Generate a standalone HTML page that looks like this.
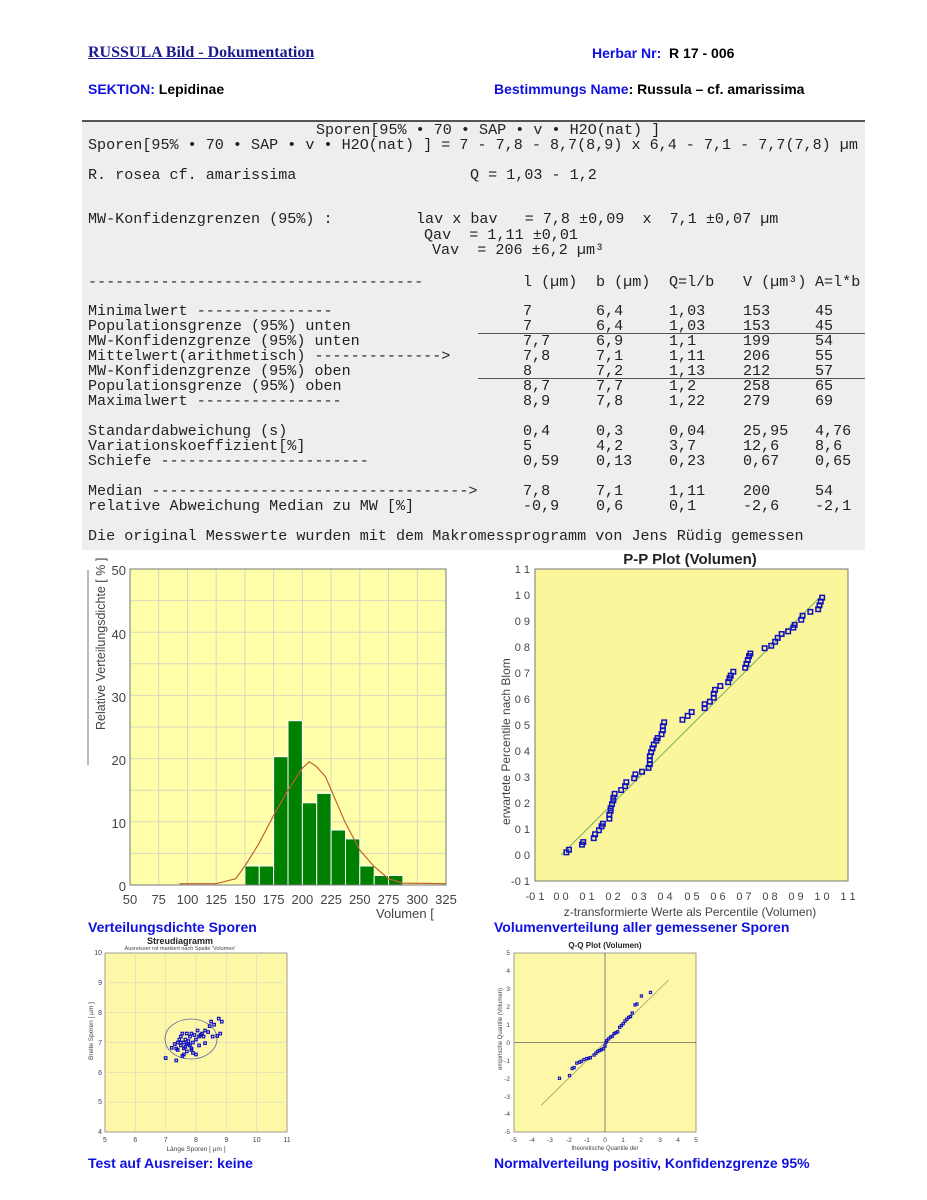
<!DOCTYPE html>
<html><head><meta charset="utf-8"><style>
body{margin:0;background:#fff;}
#p{position:relative;width:927px;height:1200px;overflow:hidden;font-family:"Liberation Sans",sans-serif;}
.a{position:absolute;white-space:pre;}
.m{font-family:"Liberation Mono",monospace;font-size:15.1px;color:#222;line-height:15px;}
.h{font-weight:bold;font-size:14px;}
.b{color:#1010e0;}
.cap{font-weight:bold;font-size:14px;color:#1010e0;}
</style></head><body><div id="p">
<div class="a" style="left:88px;top:44px;font-family:'Liberation Serif',serif;font-weight:bold;font-size:16px;color:#1a1a8c;text-decoration:underline;">RUSSULA Bild - Dokumentation</div>
<div class="a h" style="left:592px;top:45px;"><span class="b">Herbar Nr:</span>  R 17 - 006</div>
<div class="a h" style="left:88px;top:81px;"><span class="b">SEKTION:</span> Lepidinae</div>
<div class="a h" style="left:494px;top:81px;"><span class="b">Bestimmungs Name</span>: Russula – cf. amarissima</div>
<div class="a" style="left:82px;top:120px;width:783px;height:428px;background:#eeeeee;border-top:2px solid #555;"></div>
<div class="a m" style="left:316px;top:123px;">Sporen[95% • 70 • SAP • v • H2O(nat) ]</div>
<div class="a m" style="left:88px;top:138px;">Sporen[95% • 70 • SAP • v • H2O(nat) ] = 7 - 7,8 - 8,7(8,9) x 6,4 - 7,1 - 7,7(7,8) µm</div>
<div class="a m" style="left:88px;top:168px;">R. rosea cf. amarissima</div>
<div class="a m" style="left:470px;top:168px;">Q = 1,03 - 1,2</div>
<div class="a m" style="left:88px;top:212px;">MW-Konfidenzgrenzen (95%) :</div>
<div class="a m" style="left:416px;top:212px;">lav x bav   = 7,8 ±0,09  x  7,1 ±0,07 µm</div>
<div class="a m" style="left:424px;top:228px;">Qav  = 1,11 ±0,01</div>
<div class="a m" style="left:432px;top:243px;">Vav  = 206 ±6,2 µm³</div>
<div class="a m" style="left:88px;top:275px;">-------------------------------------</div>
<div class="a m" style="left:523px;top:275px;">l (µm)</div><div class="a m" style="left:596px;top:275px;">b (µm)</div><div class="a m" style="left:669px;top:275px;">Q=l/b</div><div class="a m" style="left:743px;top:275px;">V (µm³)</div><div class="a m" style="left:815px;top:275px;">A=l*b</div>
<div class="a m" style="left:88px;top:304px;">Minimalwert ---------------
Populationsgrenze (95%) unten
MW-Konfidenzgrenze (95%) unten
Mittelwert(arithmetisch) -------------->
MW-Konfidenzgrenze (95%) oben
Populationsgrenze (95%) oben
Maximalwert ----------------</div>
<div class="a m" style="left:523px;top:304px;">7
7
7,7
7,8
8
8,7
8,9</div>
<div class="a m" style="left:596px;top:304px;">6,4
6,4
6,9
7,1
7,2
7,7
7,8</div>
<div class="a m" style="left:669px;top:304px;">1,03
1,03
1,1
1,11
1,13
1,2
1,22</div>
<div class="a m" style="left:743px;top:304px;">153
153
199
206
212
258
279</div>
<div class="a m" style="left:815px;top:304px;">45
45
54
55
57
65
69</div>
<div class="a" style="left:478px;top:333px;width:387px;height:1px;background:#555;"></div>
<div class="a" style="left:478px;top:378px;width:387px;height:1px;background:#555;"></div>
<div class="a m" style="left:88px;top:424px;">Standardabweichung (s)
Variationskoeffizient[%]
Schiefe -----------------------</div>
<div class="a m" style="left:523px;top:424px;">0,4
5
0,59</div>
<div class="a m" style="left:596px;top:424px;">0,3
4,2
0,13</div>
<div class="a m" style="left:669px;top:424px;">0,04
3,7
0,23</div>
<div class="a m" style="left:743px;top:424px;">25,95
12,6
0,67</div>
<div class="a m" style="left:815px;top:424px;">4,76
8,6
0,65</div>
<div class="a m" style="left:88px;top:484px;">Median ----------------------------------->
relative Abweichung Median zu MW [%]</div>
<div class="a m" style="left:523px;top:484px;">7,8
-0,9</div>
<div class="a m" style="left:596px;top:484px;">7,1
0,6</div>
<div class="a m" style="left:669px;top:484px;">1,11
0,1</div>
<div class="a m" style="left:743px;top:484px;">200
-2,6</div>
<div class="a m" style="left:815px;top:484px;">54
-2,1</div>
<div class="a m" style="left:88px;top:529px;">Die original Messwerte wurden mit dem Makromessprogramm von Jens Rüdig gemessen</div>

<svg class="a" style="left:0;top:0" width="927" height="1200" font-family="Liberation Sans, sans-serif">
<rect x="87" y="570" width="2" height="195" fill="#bbb"/>
<rect x="130" y="569" width="316" height="316" fill="#ffffaa" stroke="#777"/>
<g stroke="#d8d8c0" stroke-width="1">
<line x1="158.7" y1="569" x2="158.7" y2="885"/><line x1="187.5" y1="569" x2="187.5" y2="885"/><line x1="216.2" y1="569" x2="216.2" y2="885"/><line x1="244.9" y1="569" x2="244.9" y2="885"/><line x1="273.6" y1="569" x2="273.6" y2="885"/><line x1="302.4" y1="569" x2="302.4" y2="885"/><line x1="331.1" y1="569" x2="331.1" y2="885"/><line x1="359.8" y1="569" x2="359.8" y2="885"/><line x1="388.5" y1="569" x2="388.5" y2="885"/><line x1="417.3" y1="569" x2="417.3" y2="885"/>
<line x1="130" y1="600.6" x2="446" y2="600.6"/><line x1="130" y1="632.2" x2="446" y2="632.2"/><line x1="130" y1="663.8" x2="446" y2="663.8"/><line x1="130" y1="695.4" x2="446" y2="695.4"/><line x1="130" y1="727" x2="446" y2="727"/><line x1="130" y1="758.6" x2="446" y2="758.6"/><line x1="130" y1="790.2" x2="446" y2="790.2"/><line x1="130" y1="821.8" x2="446" y2="821.8"/><line x1="130" y1="853.4" x2="446" y2="853.4"/>
</g>
<g fill="#008000" stroke="#fff" stroke-width="1">
<rect x="244.9" y="866" width="14.4" height="19"/><rect x="259.3" y="866" width="14.3" height="19"/><rect x="273.6" y="756.7" width="14.4" height="128.3"/><rect x="288" y="720.7" width="14.4" height="164.3"/><rect x="302.4" y="802.8" width="14.3" height="82.2"/><rect x="316.7" y="793.4" width="14.4" height="91.6"/><rect x="331.1" y="830" width="14.4" height="55"/><rect x="345.5" y="838.9" width="14.3" height="46.1"/><rect x="359.8" y="866" width="14.4" height="19"/><rect x="374.2" y="875.5" width="14.3" height="9.5"/><rect x="388.5" y="875.5" width="14.4" height="9.5"/>
</g>
<polyline fill="none" stroke="#c0603a" stroke-width="1.2" points="179.4,883.7 216.2,883.7 235.7,878.7 244.9,866 258.7,843.9 273.6,815.5 288,790.2 302.4,768.1 309.2,761.8 316.1,766.2 325.3,776.3 344.9,821.8 359.8,850.2 373.6,866 388.5,878.7 402.3,883.1 446,883.7"/>
<rect x="130" y="569" width="316" height="316" fill="none" stroke="#777"/>
<g font-size="13" fill="#444" text-anchor="end">
<text x="126" y="575">50</text><text x="126" y="639">40</text><text x="126" y="702">30</text><text x="126" y="765">20</text><text x="126" y="828">10</text><text x="126" y="891">0</text></g>
<g font-size="13" fill="#444" text-anchor="middle">
<text x="130" y="904">50</text><text x="158.7" y="904">75</text><text x="187.5" y="904">100</text><text x="216.2" y="904">125</text><text x="244.9" y="904">150</text><text x="273.6" y="904">175</text><text x="302.4" y="904">200</text><text x="331.1" y="904">225</text><text x="359.8" y="904">250</text><text x="388.5" y="904">275</text><text x="417.3" y="904">300</text><text x="446" y="904">325</text></g>
<text x="376" y="918" font-size="13" fill="#444">Volumen [</text>
<text transform="translate(105,730) rotate(-90)" font-size="12.5" fill="#444">Relative Verteilungsdichte [ % ]</text>

<text x="690" y="564" text-anchor="middle" font-size="15" font-weight="bold" fill="#222">P-P Plot (Volumen)</text>
<rect x="535" y="569" width="313" height="312" fill="#fbf59c" stroke="#777"/>
<line x1="561.1" y1="855" x2="822.1" y2="595" stroke="#7cb060" stroke-width="1"/>
<g id="pp" fill="none" stroke="#1010c0" stroke-width="1.5"></g>
<g font-size="11" fill="#444" text-anchor="end">
<text x="530" y="573">1 1</text><text x="530" y="599">1 0</text><text x="530" y="625">0 9</text><text x="530" y="651">0 8</text><text x="530" y="677">0 7</text><text x="530" y="703">0 6</text><text x="530" y="729">0 5</text><text x="530" y="755">0 4</text><text x="530" y="781">0 3</text><text x="530" y="807">0 2</text><text x="530" y="833">0 1</text><text x="530" y="859">0 0</text><text x="530" y="885">-0 1</text></g>
<g font-size="11" fill="#444" text-anchor="middle">
<text x="535" y="900">-0 1</text><text x="561" y="900">0 0</text><text x="587" y="900">0 1</text><text x="613" y="900">0 2</text><text x="639" y="900">0 3</text><text x="665" y="900">0 4</text><text x="692" y="900">0 5</text><text x="718" y="900">0 6</text><text x="744" y="900">0 7</text><text x="770" y="900">0 8</text><text x="796" y="900">0 9</text><text x="822" y="900">1 0</text><text x="848" y="900">1 1</text></g>
<text x="690" y="916" text-anchor="middle" font-size="12" fill="#444">z-transformierte Werte als Percentile (Volumen)</text>
<text transform="translate(510,825) rotate(-90)" font-size="12" fill="#444">erwartete Percentile nach Blom</text>

<text x="180" y="944" text-anchor="middle" font-size="9" font-weight="bold" fill="#222">Streudiagramm</text>
<text x="180" y="950" text-anchor="middle" font-size="5.5" fill="#444">Ausreisser rot markiert nach Spalte 'Volumen'</text>
<rect x="105" y="953" width="182" height="179" fill="#fdf8a8" stroke="#777" stroke-width="0.7"/>
<g stroke="#d8d8c0" stroke-width="0.7">
<line x1="135.3" y1="953" x2="135.3" y2="1132"/><line x1="165.7" y1="953" x2="165.7" y2="1132"/><line x1="196" y1="953" x2="196" y2="1132"/><line x1="226.3" y1="953" x2="226.3" y2="1132"/><line x1="256.7" y1="953" x2="256.7" y2="1132"/>
<line x1="105" y1="982.8" x2="287" y2="982.8"/><line x1="105" y1="1012.7" x2="287" y2="1012.7"/><line x1="105" y1="1042.5" x2="287" y2="1042.5"/><line x1="105" y1="1072.3" x2="287" y2="1072.3"/><line x1="105" y1="1102.2" x2="287" y2="1102.2"/>
</g>
<ellipse cx="191" cy="1039" rx="26" ry="20" fill="none" stroke="#6060a0" stroke-width="0.8"/>
<g id="sc" fill="none" stroke="#1010c0" stroke-width="1.2"></g>
<g font-size="7" fill="#444" text-anchor="end">
<text x="102" y="955">10</text><text x="102" y="985">9</text><text x="102" y="1015">8</text><text x="102" y="1045">7</text><text x="102" y="1075">6</text><text x="102" y="1104">5</text><text x="102" y="1134">4</text></g>
<g font-size="7" fill="#444" text-anchor="middle">
<text x="105" y="1142">5</text><text x="135.3" y="1142">6</text><text x="165.7" y="1142">7</text><text x="196" y="1142">8</text><text x="226.3" y="1142">9</text><text x="256.7" y="1142">10</text><text x="287" y="1142">11</text></g>
<text x="196" y="1151" text-anchor="middle" font-size="6.5" fill="#444">Länge Sporen [ µm ]</text>
<text transform="translate(93,1060) rotate(-90)" font-size="6.5" fill="#444">Breite Sporen [ µm ]</text>

<text x="605" y="948" text-anchor="middle" font-size="8" font-weight="bold" fill="#222">Q-Q Plot (Volumen)</text>
<rect x="514" y="953" width="182" height="179" fill="#fdf8a8" stroke="#777" stroke-width="0.7"/>
<line x1="605" y1="953" x2="605" y2="1132" stroke="#666" stroke-width="0.8"/>
<line x1="514" y1="1042.5" x2="696" y2="1042.5" stroke="#666" stroke-width="0.8"/>
<line x1="541.3" y1="1105.2" x2="668.7" y2="979.9" stroke="#9aa070" stroke-width="0.8"/>
<g id="qq" fill="none" stroke="#1010c0" stroke-width="1.1"></g>
<g font-size="6.5" fill="#444" text-anchor="end">
<text x="510" y="955">5</text><text x="510" y="973">4</text><text x="510" y="991">3</text><text x="510" y="1009">2</text><text x="510" y="1027">1</text><text x="510" y="1045">0</text><text x="510" y="1063">-1</text><text x="510" y="1081">-2</text><text x="510" y="1099">-3</text><text x="510" y="1116">-4</text><text x="510" y="1134">-5</text></g>
<g font-size="6.5" fill="#444" text-anchor="middle">
<text x="514" y="1142">-5</text><text x="532" y="1142">-4</text><text x="550" y="1142">-3</text><text x="569" y="1142">-2</text><text x="587" y="1142">-1</text><text x="605" y="1142">0</text><text x="623" y="1142">1</text><text x="641" y="1142">2</text><text x="660" y="1142">3</text><text x="678" y="1142">4</text><text x="696" y="1142">5</text></g>
<text x="605" y="1150" text-anchor="middle" font-size="6" fill="#444">theoretische Quantile der</text>
<text transform="translate(502,1070) rotate(-90)" font-size="6" fill="#444">empirische Quantile (Volumen)</text>
</svg>
<div class="a cap" style="left:88px;top:919px;">Verteilungsdichte Sporen</div>
<div class="a cap" style="left:494px;top:919px;">Volumenverteilung aller gemessener Sporen</div>
<div class="a cap" style="left:88px;top:1155px;">Test auf Ausreiser: keine</div>
<div class="a cap" style="left:494px;top:1155px;">Normalverteilung positiv, Konfidenzgrenze 95%</div>
</div>
<script>
var NS="http://www.w3.org/2000/svg";
function pts(id,arr,fx,fy,s){var g=document.getElementById(id);arr.forEach(function(p){var r=document.createElementNS(NS,"rect");r.setAttribute("x",(fx(p[0])-s/2).toFixed(1));r.setAttribute("y",(fy(p[1])-s/2).toFixed(1));r.setAttribute("width",s);r.setAttribute("height",s);g.appendChild(r);});}
var pp=[[0.02,0.01],[0.03,0.02],[0.08,0.04],[0.085,0.05],[0.125,0.065],[0.13,0.08],[0.145,0.095],[0.155,0.11],[0.16,0.12],[0.185,0.14],[0.185,0.155],[0.19,0.17],[0.19,0.18],[0.195,0.195],[0.2,0.21],[0.2,0.22],[0.205,0.235],[0.23,0.25],[0.245,0.265],[0.25,0.28],[0.28,0.295],[0.285,0.31],[0.31,0.32],[0.335,0.335],[0.34,0.35],[0.34,0.365],[0.34,0.38],[0.345,0.395],[0.35,0.41],[0.355,0.425],[0.365,0.44],[0.37,0.45],[0.385,0.465],[0.39,0.48],[0.39,0.495],[0.395,0.51],[0.465,0.52],[0.485,0.535],[0.5,0.55],[0.55,0.565],[0.55,0.58],[0.57,0.59],[0.585,0.605],[0.585,0.62],[0.59,0.635],[0.61,0.65],[0.64,0.665],[0.645,0.68],[0.65,0.69],[0.66,0.705],[0.705,0.72],[0.71,0.735],[0.715,0.75],[0.72,0.765],[0.725,0.775],[0.78,0.795],[0.805,0.805],[0.82,0.82],[0.83,0.835],[0.845,0.85],[0.87,0.86],[0.89,0.875],[0.895,0.885],[0.92,0.905],[0.925,0.92],[0.955,0.935],[0.985,0.945],[0.99,0.96],[0.995,0.975],[1.0,0.99]];
pts("pp",pp,function(v){return 561.1+v*261},function(v){return 855-v*260},4.5);
var sc=[[7.0,6.48],[7.35,6.4],[7.2,6.82],[7.3,6.95],[7.35,6.8],[7.4,6.75],[7.4,7.0],[7.45,7.1],[7.5,6.9],[7.5,7.2],[7.55,7.3],[7.55,6.55],[7.6,6.6],[7.6,7.0],[7.6,6.8],[7.65,7.1],[7.65,6.85],[7.7,7.3],[7.7,6.7],[7.75,6.95],[7.75,7.05],[7.8,7.2],[7.8,6.9],[7.85,7.3],[7.85,6.8],[7.9,7.0],[7.9,6.65],[7.95,7.25],[8.0,6.6],[8.0,7.1],[8.05,7.4],[8.1,6.9],[8.1,7.2],[8.15,7.25],[8.2,7.3],[8.25,7.2],[8.3,6.98],[8.3,7.4],[8.4,7.35],[8.45,7.55],[8.5,7.7],[8.55,7.2],[8.6,7.6],[8.7,7.22],[8.75,7.8],[8.85,7.7],[8.8,7.3],[7.85,6.75],[7.7,6.95],[7.5,7.0]];
pts("sc",sc,function(v){return 105+(v-5)*30.33},function(v){return 1132-(v-4)*29.83},2.5);
var qq=[[-2.5,-2.0],[-1.95,-1.85],[-1.8,-1.45],[-1.7,-1.4],[-1.55,-1.15],[-1.4,-1.1],[-1.3,-1.05],[-1.15,-0.95],[-1.0,-0.9],[-0.9,-0.88],[-0.8,-0.85],[-0.6,-0.7],[-0.5,-0.6],[-0.4,-0.5],[-0.3,-0.45],[-0.2,-0.4],[-0.1,-0.35],[0,-0.2],[0.05,0],[0.1,0.1],[0.2,0.2],[0.3,0.3],[0.4,0.35],[0.5,0.5],[0.6,0.55],[0.7,0.6],[0.8,0.85],[0.9,0.95],[1.0,1.05],[1.1,1.2],[1.2,1.3],[1.3,1.4],[1.4,1.45],[1.5,1.65],[1.65,2.1],[1.75,2.15],[2.0,2.6],[2.5,2.8]];
pts("qq",qq,function(v){return 605+v*18.2},function(v){return 1042.5-v*17.9},2.2);
</script>
</body></html>
